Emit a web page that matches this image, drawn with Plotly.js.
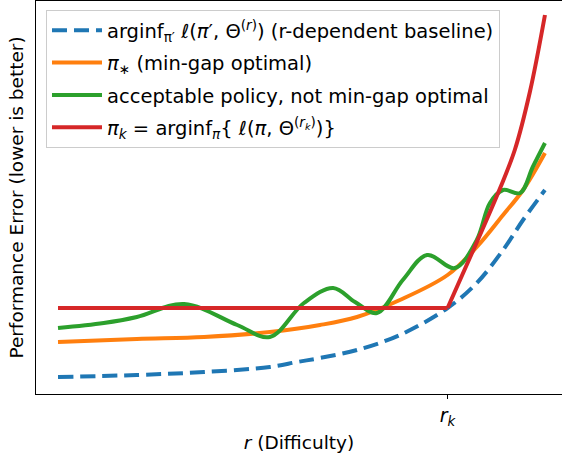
<!DOCTYPE html>
<html>
<head>
<meta charset="utf-8">
<script src="https://cdn.plot.ly/plotly-3.0.1.min.js"></script>
<style>
  html, body { margin: 0; padding: 0; background: #ffffff; }
  #chart { width: 562px; height: 455px; }
</style>
</head>
<body>
<div id="chart"></div>
<script>
// ---- data ----
const seriesNames = [
  "arginf<sub>π′</sub> <i>ℓ</i>(<i>π</i>′, Θ<sup>(<i>r</i>)</sup>) (r-dependent baseline)",
  "<i>π</i><sub>∗</sub> (min-gap optimal)",
  "acceptable policy, not min-gap optimal",
  "<i>π<sub>k</sub></i> = arginf<sub><i>π</i></sub>{ <i>ℓ</i>(<i>π</i>, Θ<sup>(<i>r<sub>k</sub></i>)</sup>)}"
];

const baselineR   = [0, 0.162, 0.300, 0.435, 0.491, 0.538, 0.614, 0.702, 0.800, 0.860, 0.914, 0.955, 1.000];
const baselineErr = [0.425, 0.475, 0.55, 0.675, 0.80, 0.90, 1.10, 1.475, 2.15, 2.775, 3.60, 4.35, 5.10];

const optimalR   = [0, 0.162, 0.300, 0.435, 0.538, 0.614, 0.702, 0.800, 0.860, 0.914, 0.955, 1.000];
const optimalErr = [1.30, 1.375, 1.425, 1.55, 1.725, 1.925, 2.35, 2.975, 3.675, 4.475, 5.10, 6.025];

const acceptR   = [0, 0.094, 0.162, 0.259, 0.368, 0.435, 0.505, 0.565, 0.610, 0.655, 0.708, 0.758, 0.815, 0.860, 0.887, 0.914, 0.949, 0.975, 1.000];
const acceptErr = [1.65, 1.775, 1.925, 2.25, 1.725, 1.425, 2.275, 2.65, 2.30, 2.025, 2.85, 3.475, 3.15, 3.85, 4.775, 5.10, 5.025, 5.675, 6.275];

const rkFlatR   = [0, 0.800];
const rkFlatErr = [2.15, 2.15];
const rkRiseR   = [0.800, 0.862, 0.908, 0.938, 0.969, 1.000];
const rkRiseErr = [2.15, 3.85, 5.15, 6.10, 7.55, 9.475];

const tickVals = [0.8];
const tickText = ["<i>r<sub>k</sub></i>"];

const xTitle = "<i>r</i> (Difficulty)";
const yTitle = "Performance Error (lower is better)";

// ---- styling ----
const FONT = "DejaVu Sans, sans-serif";
const C = { blue: "#1f77b4", orange: "#ff7f0e", green: "#2ca02c", red: "#d62728" };
const LW = 4;

const traces = [
  { x: baselineR, y: baselineErr, name: seriesNames[0], type: "scatter", mode: "lines",
    line: { color: C.blue, width: LW, dash: "15px,7px", shape: "spline" }, legendgroup: "a" },
  { x: optimalR, y: optimalErr, name: seriesNames[1], type: "scatter", mode: "lines",
    line: { color: C.orange, width: LW, shape: "spline" }, legendgroup: "b" },
  { x: acceptR, y: acceptErr, name: seriesNames[2], type: "scatter", mode: "lines",
    line: { color: C.green, width: LW, shape: "spline" }, legendgroup: "c" },
  { x: rkFlatR, y: rkFlatErr, name: seriesNames[3], type: "scatter", mode: "lines",
    line: { color: C.red, width: LW }, legendgroup: "d" },
  { x: rkRiseR, y: rkRiseErr, name: seriesNames[3], type: "scatter", mode: "lines",
    line: { color: C.red, width: LW, shape: "spline" }, legendgroup: "d", showlegend: false }
];

const layout = {
  width: 562, height: 455,
  margin: { l: 36, r: 0, t: 1, b: 61, pad: 0 },
  paper_bgcolor: "#ffffff", plot_bgcolor: "#ffffff",
  font: { family: FONT, size: 18, color: "#000000" },
  showlegend: true,
  legend: {
    x: 0.019, y: 0.977, xanchor: "left", yanchor: "top",
    bgcolor: "rgba(255,255,255,0.8)", bordercolor: "#cccccc", borderwidth: 1,
    font: { family: FONT, size: 19.5, color: "#000000" },
    tracegroupgap: 4, traceorder: "grouped", itemwidth: 50
  },
  xaxis: {
    range: [-0.0452, 1.035], showgrid: false, zeroline: false,
    showline: true, mirror: true, linecolor: "#000000", linewidth: 1,
    ticks: "outside", ticklen: 4, tickwidth: 1, tickcolor: "#000000",
    tickvals: tickVals, ticktext: tickText,
    tickfont: { family: FONT, size: 19, color: "#000000" },
    title: { text: xTitle, font: { family: FONT, size: 18.5, color: "#000000" }, standoff: 8 }
  },
  yaxis: {
    range: [0, 9.825], showgrid: false, zeroline: false,
    showline: true, mirror: false, linecolor: "#000000", linewidth: 1,
    ticks: "", showticklabels: false,
    title: { text: yTitle, font: { family: FONT, size: 18.5, color: "#000000" }, standoff: 6 }
  }
};

Plotly.newPlot("chart", traces, layout, { staticPlot: true, displayModeBar: false });
</script>
</body>
</html>
